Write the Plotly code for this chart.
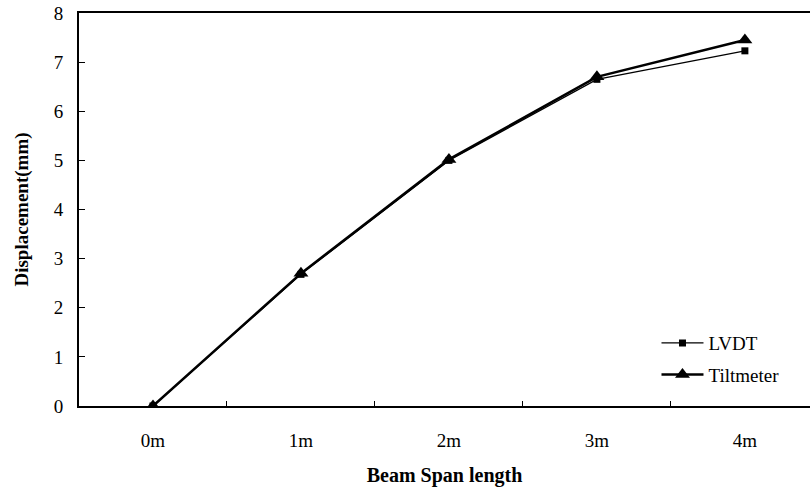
import plotly.graph_objects as go

categories = ["0m", "1m", "2m", "3m", "4m"]
lvdt = [0.0, 2.68, 5.0, 6.65, 7.23]
tiltmeter = [0.0, 2.7, 5.02, 6.7, 7.45]

FONT = "Liberation Serif, Times New Roman, serif"

fig = go.Figure()
fig.add_trace(go.Scatter(
    x=categories, y=lvdt, name="LVDT", mode="lines+markers",
    line=dict(color="black", width=1.3),
    marker=dict(symbol="square", size=7, color="black"),
    legend="legend",
))
fig.add_trace(go.Scatter(
    x=categories, y=tiltmeter, name="Tiltmeter", mode="lines+markers",
    line=dict(color="black", width=2.5),
    marker=dict(symbol="triangle-up", size=13, color="black"),
    legend="legend2",
))

fig.update_layout(
    template="none",
    width=810, height=497,
    margin=dict(l=79, r=0, t=13, b=91),
    plot_bgcolor="white", paper_bgcolor="white",
    font=dict(family=FONT, size=19, color="black"),
    xaxis=dict(
        type="category", range=[-0.5, 4.44],
        tickson="boundaries", ticks="inside", ticklen=5, tickwidth=1, tickcolor="black",
        ticklabelstandoff=16,
        showline=True, linecolor="black", linewidth=2, mirror=True,
        showgrid=False, zeroline=False,
        title=dict(text="<b>Beam Span length</b>", font=dict(size=20), standoff=18),
    ),
    yaxis=dict(
        range=[0, 8], dtick=1, ticks="inside", ticklen=6, tickwidth=1, tickcolor="black",
        ticklabelstandoff=10, mirror=False,
        showline=True, linecolor="black", linewidth=2,
        showgrid=False, zeroline=False,
        title=dict(text="<b>Displacement(mm)</b>", font=dict(size=19), standoff=20),
    ),
    legend=dict(x=0.79, y=0.16, xanchor="left", yanchor="middle", itemwidth=42,
                bgcolor="rgba(0,0,0,0)", font=dict(size=19)),
    legend2=dict(x=0.79, y=0.08, xanchor="left", yanchor="middle", itemwidth=42,
                 bgcolor="rgba(0,0,0,0)", font=dict(size=19)),
    showlegend=True,
    # white strip masking the stray right edge of the plot area (no right frame in the original)
    shapes=[dict(type="rect", xref="paper", yref="paper", x0=0.996, x1=1.0, y0=0.004, y1=0.996,
                 fillcolor="white", line=dict(width=0), layer="above")],
)

fig.write_html("out.html")
